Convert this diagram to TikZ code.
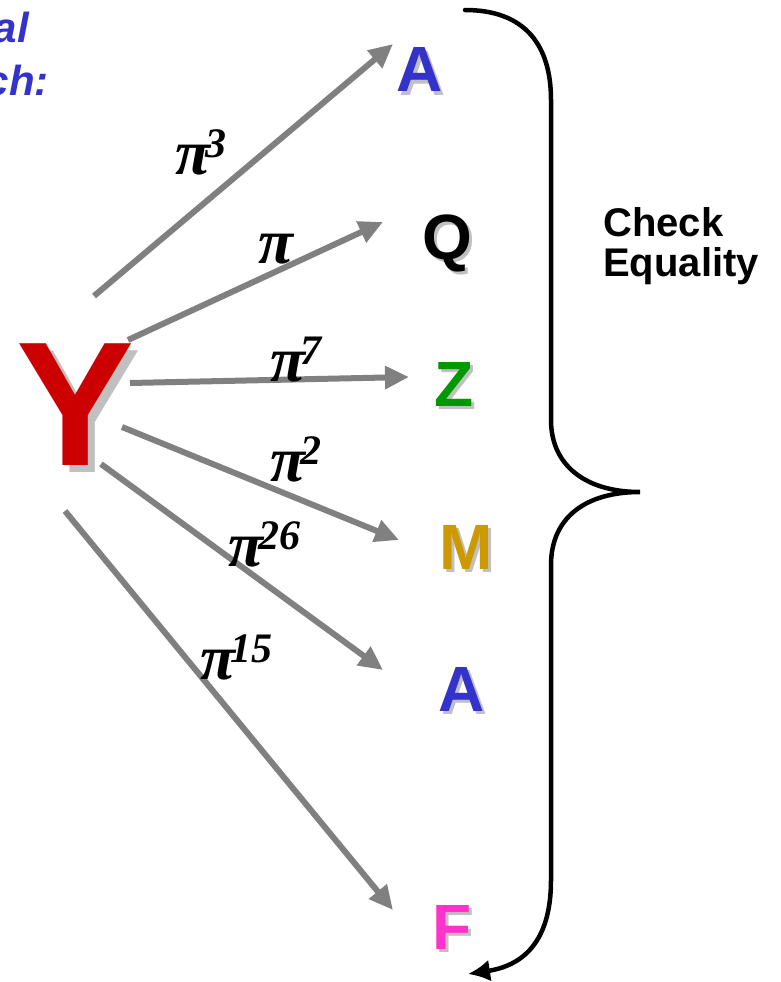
\documentclass[tikz,border=0pt]{standalone}
\usepackage{fontspec}
\setmainfont{Liberation Sans}
\newfontfamily\pifont{Liberation Serif}
\usepackage{tikz}
\usetikzlibrary{arrows.meta}

\definecolor{linegrey}{RGB}{128,128,128}
\definecolor{shadegrey}{RGB}{192,192,192}
\definecolor{ablue}{RGB}{51,51,204}
\definecolor{yred}{RGB}{204,0,0}
\definecolor{zgreen}{RGB}{0,153,0}
\definecolor{mgold}{RGB}{204,153,0}
\definecolor{fpink}{RGB}{255,51,204}

% letter with a grey drop shadow
\newcommand\shadowed[3]{\rlap{\hspace{#3}\raisebox{-#3}{\color{shadegrey}#2}}{\color{#1}#2}}
% pi with exponent
\newcommand\pipow[1]{\pifont\bfseries\itshape\fontsize{64}{64}\selectfont π\kern-5pt\raisebox{17pt}{\fontsize{42}{42}\selectfont #1}}

\begin{document}
\begin{tikzpicture}[x=1pt, y=-1pt,
    letter/.style={inner sep=0pt, font=\bfseries\fontsize{64}{64}\selectfont},
    edge/.style={draw=linegrey, line width=6pt, -{Triangle[length=24pt, width=22pt]}},
    power/.style={inner sep=0pt, anchor=base west}]
  \useasboundingbox (0,0) rectangle (780,982);

  % heading, cut at the left edge
  \node[inner sep=0pt, anchor=base east, text=ablue, font=\bfseries\itshape\fontsize{42}{42}\selectfont] (head1) at (29,43) {al};
  \node[inner sep=0pt, anchor=base east, text=ablue, font=\bfseries\itshape\fontsize{42}{42}\selectfont] (head2) at (49,95) {ch:};

  \node[inner sep=0pt, anchor=base, font=\bfseries\fontsize{177}{177}\selectfont] (y) at (76,465) {\shadowed{yred}{Y}{7pt}};

  \node[letter, anchor=base] (a1) at (420,92) {\shadowed{ablue}{A}{3pt}};
  \node[letter, anchor=base] (q) at (447,259) {\shadowed{black}{Q}{3pt}};
  \node[letter, anchor=base] (z) at (454,406) {\shadowed{zgreen}{Z}{3pt}};
  \node[letter, anchor=base] (m) at (466,569) {\shadowed{mgold}{M}{3pt}};
  \node[letter, anchor=base] (a2) at (462,711) {\shadowed{ablue}{A}{3pt}};
  \node[letter, anchor=base] (f) at (452,949) {\shadowed{fpink}{F}{3pt}};

  \coordinate (s1) at (94,296);
  \coordinate (s2) at (128,340);
  \coordinate (s3) at (130,383);
  \coordinate (s4) at (122,427);
  \coordinate (s5) at (101,464);
  \coordinate (s6) at (65,511);
  \coordinate (t1) at (393,44);
  \coordinate (t2) at (383,222);
  \coordinate (t3) at (409,377);
  \coordinate (t4) at (399,540);
  \coordinate (t5) at (383,670);
  \coordinate (t6) at (393,910);

  \draw[edge] (s1) -- (t1);
  \draw[edge] (s2) -- (t2);
  \draw[edge] (s3) -- (t3);
  \draw[edge] (s4) -- (t4);
  \draw[edge] (s5) -- (t5);
  \draw[edge] (s6) -- (t6);

  \node[power] (p1) at (175,174) {\pipow{3}};
  \node[power] (p2) at (258,263) {\pipow{}};
  \node[power] (p3) at (270,381) {\pipow{7}};
  \node[power] (p4) at (270,481) {\pipow{2}};
  \node[power] (p5) at (228,566) {\pipow{26}};
  \node[power] (p6) at (200,679) {\pipow{15}};

  % the brace
  \coordinate (btop) at (465,10);
  \coordinate (btip) at (640,492);
  \coordinate (bend) at (468,974);
  \draw[line width=4.5pt, line cap=round, -{Latex[length=22pt, width=22pt]}]
    (btop) .. controls (525,10) and (551,45) .. (551,100)
    -- (551,420) .. controls (551,465) and (585,492) .. (btip)
    .. controls (585,492) and (551,518) .. (551,565)
    -- (551,880) .. controls (551,945) and (520,966) .. (bend);

  \node[inner sep=0pt, anchor=base west, align=left, font=\bfseries\fontsize{40}{40}\selectfont] (check) at (603,276) {Check\\Equality};
\end{tikzpicture}
\end{document}
